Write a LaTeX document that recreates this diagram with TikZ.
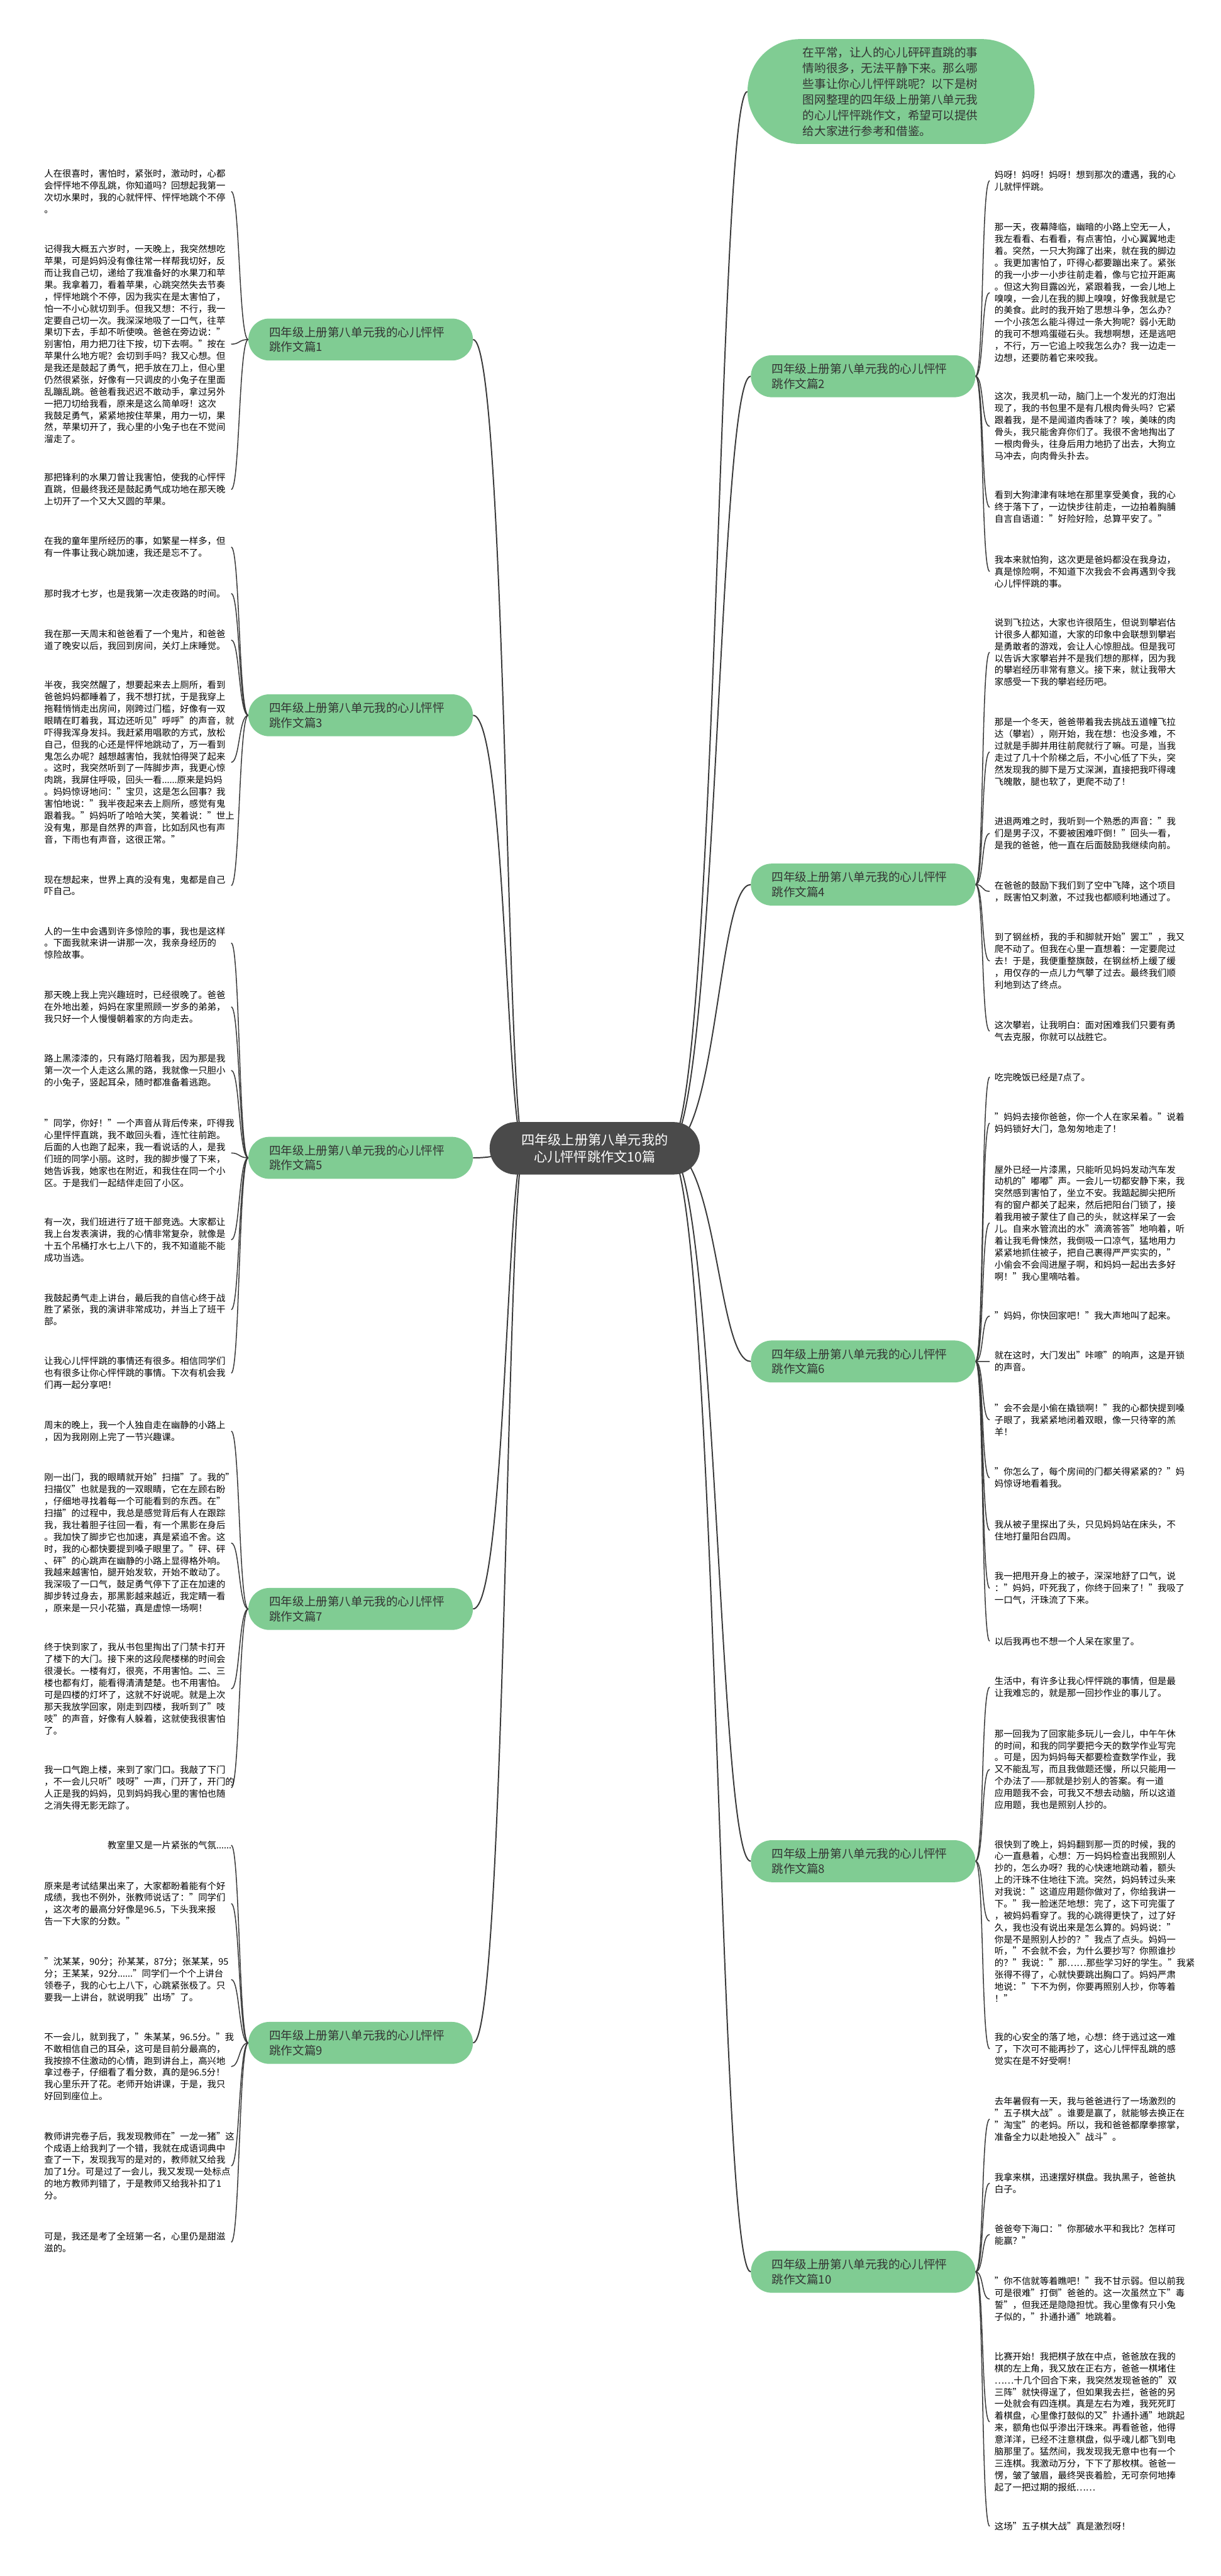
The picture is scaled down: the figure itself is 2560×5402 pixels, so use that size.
\documentclass[tikz,border=0pt]{standalone}
\usepackage{fontspec}
\setmainfont{Noto Sans CJK SC}
\usetikzlibrary{backgrounds}
\definecolor{ink}{HTML}{333333}
\definecolor{topicgreen}{HTML}{80CC93}
\definecolor{rootgray}{HTML}{4A4A4A}
\definecolor{wire}{HTML}{3A3A3A}
\pgfdeclarelayer{wires}
\pgfsetlayers{background,wires,main}
\tikzset{
  root/.style={fill=rootgray,text=white,rounded corners=55pt,minimum width=441pt,minimum height=110pt,
    align=center,inner sep=0pt,font=\fontsize{28pt}{36pt}\selectfont},
  intro/.style={fill=topicgreen,rounded corners=110pt,minimum width=602pt,minimum height=220pt,
    text width=370pt,align=left,inner sep=0pt,text=ink,font=\fontsize{24.5pt}{33pt}\selectfont},
  topic/.style={fill=topicgreen,rounded corners=44pt,minimum width=471pt,minimum height=88pt,
    text width=383pt,inner xsep=44pt,inner ysep=0pt,align=left,text=ink,
    font=\fontsize{24.5pt}{31pt}\selectfont},
  leaf/.style={text width=382pt,inner xsep=10pt,inner ysep=0pt,align=left,text=black,
    yshift=9.5pt,font=\fontsize{19pt}{24.9pt}\selectfont},
  leafl/.style={leaf,anchor=north east},
  leafr/.style={leaf,anchor=north west},
  trunk/.style={draw=wire,line width=2.6pt},
  twig/.style={draw=wire,line width=2pt},
}

\begin{document}
\begin{tikzpicture}[x=1pt,y=-1pt]

\begin{pgfonlayer}{background}
\fill[white] (0,0) rectangle (2560,5402);
\end{pgfonlayer}
\useasboundingbox (0,0) rectangle (2560,5402);

% ---- root and intro
\node[root] (root) at (1247.5,2408) {四年级上册第八单元我的\\心儿怦怦跳作文10篇};
\node[intro] (intro) at (1869,192) {在平常，让人的心儿砰砰直跳的事\\情哟很多，无法平静下来。那么哪\\些事让你心儿怦怦跳呢？以下是树\\图网整理的四年级上册第八单元我\\的心儿怦怦跳作文，希望可以提供\\给大家进行参考和借鉴。};
\coordinate (rootw) at (1100,2408);
\coordinate (roote) at (1400,2408);

% ---- topics
\node[topic] (t1) at (756.5,712) {四年级上册第八单元我的心儿怦怦\\跳作文篇1};
\node[topic] (t3) at (756.5,1500) {四年级上册第八单元我的心儿怦怦\\跳作文篇3};
\node[topic] (t5) at (756.5,2428) {四年级上册第八单元我的心儿怦怦\\跳作文篇5};
\node[topic] (t7) at (756.5,3374) {四年级上册第八单元我的心儿怦怦\\跳作文篇7};
\node[topic] (t9) at (756.5,4284) {四年级上册第八单元我的心儿怦怦\\跳作文篇9};
\node[topic] (t2) at (1810.5,789) {四年级上册第八单元我的心儿怦怦\\跳作文篇2};
\node[topic] (t4) at (1810.5,1855) {四年级上册第八单元我的心儿怦怦\\跳作文篇4};
\node[topic] (t6) at (1810.5,2855) {四年级上册第八单元我的心儿怦怦\\跳作文篇6};
\node[topic] (t8) at (1810.5,3903) {四年级上册第八单元我的心儿怦怦\\跳作文篇8};
\node[topic] (t10) at (1810.5,4764) {四年级上册第八单元我的心儿怦怦\\跳作文篇10};

% ---- essay 1
\node[leafl] (l1a) at (485,365) {人在很喜时，害怕时，紧张时，激动时，心都\\会怦怦地不停乱跳，你知道吗？回想起我第一\\次切水果时，我的心就怦怦、怦怦地跳个不停\\。};
\node[leafl] (l1b) at (485,523) {记得我大概五六岁时，一天晚上，我突然想吃\\苹果，可是妈妈没有像往常一样帮我切好，反\\而让我自己切，递给了我准备好的水果刀和苹\\果。我拿着刀，看着苹果，心跳突然失去节奏\\，怦怦地跳个不停，因为我实在是太害怕了，\\怕一不小心就切到手。但我又想：不行，我一\\定要自己切一次。我深深地吸了一口气，往苹\\果切下去，手却不听使唤。爸爸在旁边说："\\别害怕，用力把刀往下按，切下去啊。"按在\\苹果什么地方呢？会切到手吗？我又心想。但\\是我还是鼓起了勇气，把手放在刀上，但心里\\仍然很紧张，好像有一只调皮的小兔子在里面\\乱蹦乱跳。爸爸看我迟迟不敢动手，拿过另外\\一把刀切给我看，原来是这么简单呀！这次\\我鼓足勇气，紧紧地按住苹果，用力一切，果\\然，苹果切开了，我心里的小兔子也在不觉间\\溜走了。};
\node[leafl] (l1c) at (485,1002) {那把锋利的水果刀曾让我害怕，使我的心怦怦\\直跳，但最终我还是鼓起勇气成功地在那天晚\\上切开了一个又大又圆的苹果。};

% ---- essay 3
\node[leafl] (l3a) at (485,1135) {在我的童年里所经历的事，如繁星一样多，但\\有一件事让我心跳加速，我还是忘不了。};
\node[leafl] (l3b) at (485,1245) {那时我才七岁，也是我第一次走夜路的时间。};
\node[leafl] (l3c) at (485,1330) {我在那一天周末和爸爸看了一个鬼片，和爸爸\\道了晚安以后，我回到房间，关灯上床睡觉。};
\node[leafl] (l3d) at (485,1437) {半夜，我突然醒了，想要起来去上厕所，看到\\爸爸妈妈都睡着了，我不想打扰，于是我穿上\\拖鞋悄悄走出房间，刚跨过门槛，好像有一双\\眼睛在盯着我，耳边还听见"呼呼"的声音，就\\吓得我浑身发抖。我赶紧用唱歌的方式，放松\\自己，但我的心还是怦怦地跳动了，万一看到\\鬼怎么办呢？越想越害怕，我就怕得哭了起来\\。这时，我突然听到了一阵脚步声，我更心惊\\肉跳，我屏住呼吸，回头一看......原来是妈妈\\。妈妈惊讶地问："宝贝，这是怎么回事？我\\害怕地说："我半夜起来去上厕所，感觉有鬼\\跟着我。"妈妈听了哈哈大笑，笑着说："世上\\没有鬼，那是自然界的声音，比如刮风也有声\\音，下雨也有声音，这很正常。"};
\node[leafl] (l3e) at (485,1845) {现在想起来，世界上真的没有鬼，鬼都是自己\\吓自己。};

% ---- essay 5
\node[leafl] (l5a) at (485,1953) {人的一生中会遇到许多惊险的事，我也是这样\\。下面我就来讲一讲那一次，我亲身经历的\\惊险故事。};
\node[leafl] (l5b) at (485,2087) {那天晚上我上完兴趣班时，已经很晚了。爸爸\\在外地出差，妈妈在家里照顾一岁多的弟弟，\\我只好一个人慢慢朝着家的方向走去。};
\node[leafl] (l5c) at (485,2220) {路上黑漆漆的，只有路灯陪着我，因为那是我\\第一次一个人走这么黑的路，我就像一只胆小\\的小兔子，竖起耳朵，随时都准备着逃跑。};
\node[leafl] (l5d) at (485,2356) {"同学，你好！"一个声音从背后传来，吓得我\\心里怦怦直跳，我不敢回头看，连忙往前跑。\\后面的人也跑了起来，我一看说话的人，是我\\们班的同学小丽。这时，我的脚步慢了下来，\\她告诉我，她家也在附近，和我住在同一个小\\区。于是我们一起结伴走回了小区。};
\node[leafl] (l5e) at (485,2563) {有一次，我们班进行了班干部竞选。大家都让\\我上台发表演讲，我的心情非常复杂，就像是\\十五个吊桶打水七上八下的，我不知道能不能\\成功当选。};
\node[leafl] (l5f) at (485,2722) {我鼓起勇气走上讲台，最后我的自信心终于战\\胜了紧张，我的演讲非常成功，并当上了班干\\部。};
\node[leafl] (l5g) at (485,2855) {让我心儿怦怦跳的事情还有很多。相信同学们\\也有很多让你心怦怦跳的事情。下次有机会我\\们再一起分享吧！};

% ---- essay 7
\node[leafl] (l7a) at (485,2989) {周末的晚上，我一个人独自走在幽静的小路上\\，因为我刚刚上完了一节兴趣课。};
\node[leafl] (l7b) at (485,3099) {刚一出门，我的眼睛就开始"扫描"了。我的"\\扫描仪"也就是我的一双眼睛，它在左顾右盼\\，仔细地寻找着每一个可能看到的东西。在"\\扫描"的过程中，我总是感觉背后有人在跟踪\\我，我壮着胆子往回一看，有一个黑影在身后\\。我加快了脚步它也加速，真是紧追不舍。这\\时，我的心都快要提到嗓子眼里了。"砰、砰\\、砰"的心跳声在幽静的小路上显得格外响。\\我越来越害怕，腿开始发软，开始不敢动了。\\我深吸了一口气，鼓足勇气停下了正在加速的\\脚步转过身去，那黑影越来越近，我定睛一看\\，原来是一只小花猫，真是虚惊一场啊！};
\node[leafl] (l7c) at (485,3455) {终于快到家了，我从书包里掏出了门禁卡打开\\了楼下的大门。接下来的这段爬楼梯的时间会\\很漫长。一楼有灯，很亮，不用害怕。二、三\\楼也都有灯，能看得清清楚楚。也不用害怕。\\可是四楼的灯坏了，这就不好说呢。就是上次\\那天我放学回家，刚走到四楼，我听到了"吱\\吱"的声音，好像有人躲着，这就使我很害怕\\了。};
\node[leafl] (l7d) at (485,3712) {我一口气跑上楼，来到了家门口。我敲了下门\\，不一会儿只听"吱呀"一声，门开了，开门的\\人正是我的妈妈，见到妈妈我心里的害怕也随\\之消失得无影无踪了。};

% ---- essay 9
\node[leafl] (l9a) at (485,3870) {　　　　　　　教室里又是一片紧张的气氛......};
\node[leafl] (l9b) at (485,3955) {原来是考试结果出来了，大家都盼着能有个好\\成绩，我也不例外，张教师说话了："同学们\\，这次考的最高分好像是96.5，下头我来报\\告一下大家的分数。"};
\node[leafl] (l9c) at (485,4114) {"沈某某，90分；孙某某，87分；张某某，95\\分；王某某，92分......"同学们一个个上讲台\\领卷子，我的心七上八下，心跳紧张极了。只\\要我一上讲台，就说明我"出场"了。};
\node[leafl] (l9d) at (485,4272) {不一会儿，就到我了，"朱某某，96.5分。"我\\不敢相信自己的耳朵，这可是目前分最高的，\\我按捺不住激动的心情，跑到讲台上，高兴地\\拿过卷子，仔细看了看分数，真的是96.5分！\\我心里乐开了花。老师开始讲课，于是，我只\\好回到座位上。};
\node[leafl] (l9e) at (485,4480) {教师讲完卷子后，我发现教师在"一龙一猪"这\\个成语上给我判了一个错，我就在成语词典中\\查了一下，发现我写的是对的，教师就又给我\\加了1分。可是过了一会儿，我又发现一处标点\\的地方教师判错了，于是教师又给我补扣了1\\分。};
\node[leafl] (l9f) at (485,4690) {可是，我还是考了全班第一名，心里仍是甜滋\\滋的。};

% ---- essay 2
\node[leafr] (r2a) at (2076,367) {妈呀！妈呀！妈呀！想到那次的遭遇，我的心\\儿就怦怦跳。};
\node[leafr] (r2b) at (2076,477) {那一天，夜幕降临，幽暗的小路上空无一人，\\我左看看、右看看，有点害怕，小心翼翼地走\\着。突然，一只大狗蹿了出来，就在我的脚边\\。我更加害怕了，吓得心都要蹦出来了。紧张\\的我一小步一小步往前走着，像与它拉开距离\\。但这大狗目露凶光，紧跟着我，一会儿地上\\嗅嗅，一会儿在我的脚上嗅嗅，好像我就是它\\的美食。此时的我开始了思想斗争，怎么办？\\一个小孩怎么能斗得过一条大狗呢？弱小无助\\的我可不想鸡蛋碰石头。我想啊想，还是逃吧\\，不行，万一它追上咬我怎么办？我一边走一\\边想，还要防着它来咬我。};
\node[leafr] (r2c) at (2076,832) {这次，我灵机一动，脑门上一个发光的灯泡出\\现了，我的书包里不是有几根肉骨头吗？它紧\\跟着我，是不是闻道肉香味了？唉，美味的肉\\骨头，我只能舍弃你们了。我很不舍地掏出了\\一根肉骨头，往身后用力地扔了出去，大狗立\\马冲去，向肉骨头扑去。};
\node[leafr] (r2d) at (2076,1039) {看到大狗津津有味地在那里享受美食，我的心\\终于落下了，一边快步往前走，一边拍着胸脯\\自言自语道："好险好险，总算平安了。"};
\node[leafr] (r2e) at (2076,1174) {我本来就怕狗，这次更是爸妈都没在我身边，\\真是惊险啊，不知道下次我会不会再遇到令我\\心儿怦怦跳的事。};

% ---- essay 4
\node[leafr] (r4a) at (2076,1306) {说到飞拉达，大家也许很陌生，但说到攀岩估\\计很多人都知道，大家的印象中会联想到攀岩\\是勇敢者的游戏，会让人心惊胆战。但是我可\\以告诉大家攀岩并不是我们想的那样，因为我\\的攀岩经历非常有意义。接下来，就让我带大\\家感受一下我的攀岩经历吧。};
\node[leafr] (r4b) at (2076,1515) {那是一个冬天，爸爸带着我去挑战五道幢飞拉\\达（攀岩），刚开始，我在想：也没多难，不\\过就是手脚并用往前爬就行了嘛。可是，当我\\走过了几十个阶梯之后，不小心低了下头，突\\然发现我的脚下是万丈深渊，直接把我吓得魂\\飞魄散，腿也软了，更爬不动了！};
\node[leafr] (r4c) at (2076,1723) {进退两难之时，我听到一个熟悉的声音："我\\们是男子汉，不要被困难吓倒！"回头一看，\\是我的爸爸，他一直在后面鼓励我继续向前。};
\node[leafr] (r4d) at (2076,1857) {在爸爸的鼓励下我们到了空中飞降，这个项目\\，既害怕又刺激，不过我也都顺利地通过了。};
\node[leafr] (r4e) at (2076,1966) {到了钢丝桥，我的手和脚就开始"罢工"，我又\\爬不动了。但我在心里一直想着：一定要爬过\\去！于是，我便重整旗鼓，在钢丝桥上缓了缓\\，用仅存的一点儿力气攀了过去。最终我们顺\\利地到达了终点。};
\node[leafr] (r4f) at (2076,2150) {这次攀岩，让我明白：面对困难我们只要有勇\\气去克服，你就可以战胜它。};

% ---- essay 6
\node[leafr] (r6a) at (2076,2259) {吃完晚饭已经是7点了。};
\node[leafr] (r6b) at (2076,2343) {"妈妈去接你爸爸，你一个人在家呆着。"说着\\妈妈锁好大门，急匆匆地走了！};
\node[leafr] (r6c) at (2076,2453) {屋外已经一片漆黑，只能听见妈妈发动汽车发\\动机的"嘟嘟"声。一会儿一切都安静下来，我\\突然感到害怕了，坐立不安。我踮起脚尖把所\\有的窗户都关了起来，然后把阳台门锁了，接\\着我用被子蒙住了自己的头，就这样呆了一会\\儿。自来水管流出的水"滴滴答答"地响着，听\\着让我毛骨悚然，我倒吸一口凉气，猛地用力\\紧紧地抓住被子，把自己裹得严严实实的，"\\小偷会不会闯进屋子啊，和妈妈一起出去多好\\啊！"我心里嘀咕着。};
\node[leafr] (r6d) at (2076,2760) {"妈妈，你快回家吧！"我大声地叫了起来。};
\node[leafr] (r6e) at (2076,2843) {就在这时，大门发出"咔嚓"的响声，这是开锁\\的声音。};
\node[leafr] (r6f) at (2076,2953) {"会不会是小偷在撬锁啊！"我的心都快提到嗓\\子眼了，我紧紧地闭着双眼，像一只待宰的羔\\羊！};
\node[leafr] (r6g) at (2076,3087) {"你怎么了，每个房间的门都关得紧紧的？"妈\\妈惊讶地看着我。};
\node[leafr] (r6h) at (2076,3197) {我从被子里探出了头，只见妈妈站在床头，不\\住地打量阳台四周。};
\node[leafr] (r6i) at (2076,3306) {我一把甩开身上的被子，深深地舒了口气，说\\："妈妈，吓死我了，你终于回来了！"我吸了\\一口气，汗珠流了下来。};
\node[leafr] (r6j) at (2076,3442) {以后我再也不想一个人呆在家里了。};

% ---- essay 8
\node[leafr] (r8a) at (2076,3526) {生活中，有许多让我心怦怦跳的事情，但是最\\让我难忘的，就是那一回抄作业的事儿了。};
\node[leafr] (r8b) at (2076,3636) {那一回我为了回家能多玩儿一会儿，中午午休\\的时间，和我的同学要把今天的数学作业写完\\。可是，因为妈妈每天都要检查数学作业，我\\又不能乱写，而且我做题还慢，所以只能用一\\个办法了——那就是抄别人的答案。有一道\\应用题我不会，可我又不想去动脑，所以这道\\应用题，我也是照别人抄的。};
\node[leafr] (r8c) at (2076,3868) {很快到了晚上，妈妈翻到那一页的时候，我的\\心一直悬着，心想：万一妈妈检查出我照别人\\抄的，怎么办呀？我的心快速地跳动着，额头\\上的汗珠不住地往下流。突然，妈妈转过头来\\对我说："这道应用题你做对了，你给我讲一\\下。"我一脸迷茫地想：完了，这下可完蛋了\\，被妈妈看穿了。我的心跳得更快了，过了好\\久，我也没有说出来是怎么算的。妈妈说："\\你是不是照别人抄的？"我点了点头。妈妈一\\听，"不会就不会，为什么要抄写？你照谁抄\\的？"我说："那……那些学习好的学生。"我紧\\张得不得了，心就快要跳出胸口了。妈妈严肃\\地说："下不为例，你要再照别人抄，你等着\\！"};
\node[leafr] (r8d) at (2076,4272) {我的心安全的落了地，心想：终于逃过这一难\\了，下次可不能再抄了，这心儿怦怦乱跳的感\\觉实在是不好受啊！};

% ---- essay 10
\node[leafr] (r10a) at (2076,4407) {去年暑假有一天，我与爸爸进行了一场激烈的\\"五子棋大战"。谁要是赢了，就能够去换正在\\"淘宝"的老妈。所以，我和爸爸都摩拳擦掌，\\准备全力以赴地投入"战斗"。};
\node[leafr] (r10b) at (2076,4566) {我拿来棋，迅速摆好棋盘。我执黑子，爸爸执\\白子。};
\node[leafr] (r10c) at (2076,4674) {爸爸夸下海口："你那破水平和我比？怎样可\\能赢？"};
\node[leafr] (r10d) at (2076,4784) {"你不信就等着瞧吧！"我不甘示弱。但以前我\\可是很难"打倒"爸爸的。这一次虽然立下"毒\\誓"，但我还是隐隐担忧。我心里像有只小兔\\子似的，"扑通扑通"地跳着。};
\node[leafr] (r10e) at (2076,4942) {比赛开始！我把棋子放在中点，爸爸放在我的\\棋的左上角，我又放在正右方，爸爸一棋堵住\\……十几个回合下来，我突然发现爸爸的"双\\三阵"就快得逞了，但如果我去拦，爸爸的另\\一处就会有四连棋。真是左右为难，我死死盯\\着棋盘，心里像打鼓似的又"扑通扑通"地跳起\\来，额角也似乎渗出汗珠来。再看爸爸，他得\\意洋洋，已经不注意棋盘，似乎魂儿都飞到电\\脑那里了。猛然间，我发现我无意中也有一个\\三连棋。我激动万分，下下了那枚棋。爸爸一\\愣，皱了皱眉，最终哭丧着脸，无可奈何地捧\\起了一把过期的报纸……};
\node[leafr] (r10f) at (2076,5298) {这场"五子棋大战"真是激烈呀！};

% ---- wires
\begin{pgfonlayer}{wires}
\foreach \t/\y in {t1/712,t3/1500,t5/2428,t7/3374,t9/4284}
  \draw[trunk] (rootw) .. controls (1062,2408) and (1062,\y) .. (\t.east);
\foreach \t/\y in {t2/789,t4/1855,t6/2855,t8/3903,t10/4764,intro/192}
  \draw[trunk] (roote) .. controls (1505,2408) and (1505,\y) .. (\t.west);
\foreach \l in {l1a,l1b,l1c}
  \draw[twig] (t1.west) .. controls +(-20,0) and +(18,0) .. (\l.east);
\foreach \l in {l3a,l3b,l3c,l3d,l3e}
  \draw[twig] (t3.west) .. controls +(-20,0) and +(18,0) .. (\l.east);
\foreach \l in {l5a,l5b,l5c,l5d,l5e,l5f,l5g}
  \draw[twig] (t5.west) .. controls +(-20,0) and +(18,0) .. (\l.east);
\foreach \l in {l7a,l7b,l7c,l7d}
  \draw[twig] (t7.west) .. controls +(-20,0) and +(18,0) .. (\l.east);
\foreach \l in {l9a,l9b,l9c,l9d,l9e,l9f}
  \draw[twig] (t9.west) .. controls +(-20,0) and +(18,0) .. (\l.east);
\foreach \l in {r2a,r2b,r2c,r2d,r2e}
  \draw[twig] (t2.east) .. controls +(18,0) and +(-18,0) .. (\l.west);
\foreach \l in {r4a,r4b,r4c,r4d,r4e,r4f}
  \draw[twig] (t4.east) .. controls +(18,0) and +(-18,0) .. (\l.west);
\foreach \l in {r6a,r6b,r6c,r6d,r6e,r6f,r6g,r6h,r6i,r6j}
  \draw[twig] (t6.east) .. controls +(18,0) and +(-18,0) .. (\l.west);
\foreach \l in {r8a,r8b,r8c,r8d}
  \draw[twig] (t8.east) .. controls +(18,0) and +(-18,0) .. (\l.west);
\foreach \l in {r10a,r10b,r10c,r10d,r10e,r10f}
  \draw[twig] (t10.east) .. controls +(18,0) and +(-18,0) .. (\l.west);
\end{pgfonlayer}

\end{tikzpicture}
\end{document}
